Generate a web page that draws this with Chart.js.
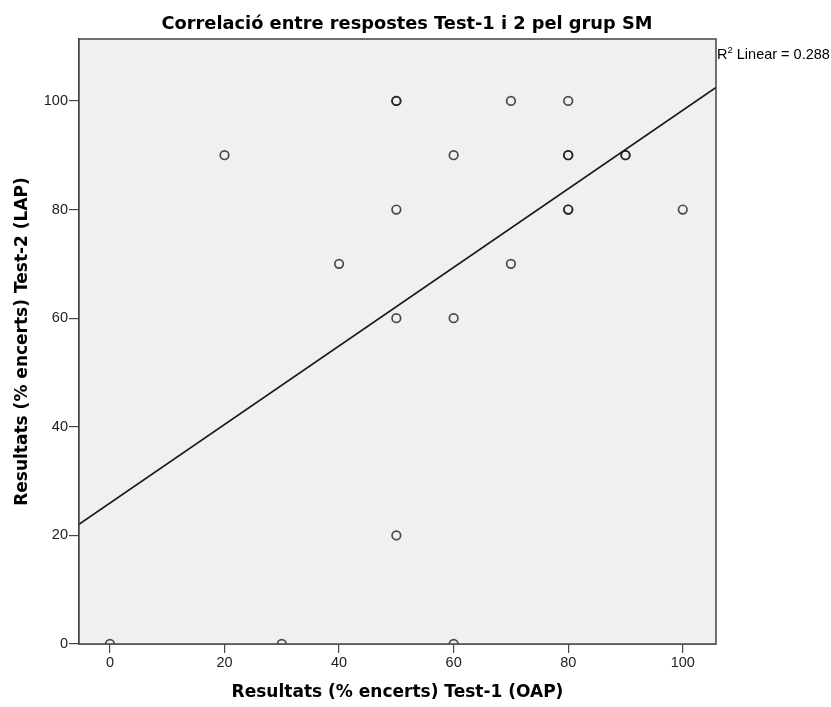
<!DOCTYPE html>
<html>
<head>
<meta charset="utf-8">
<script src="https://cdn.jsdelivr.net/npm/chart.js@4.4.0/dist/chart.umd.min.js"></script>
<style>
  html, body { margin: 0; padding: 0; background: #fff; }
  #wrap { width: 831px; height: 707px; }
</style>
</head>
<body>
<div id="wrap"><canvas id="scatter"></canvas></div>
<script>
// Test-1 (OAP) vs Test-2 (LAP), one entry per student
const test1 = [0, 30, 60, 50, 20, 40, 50, 50, 50, 50, 60, 60, 70, 70, 80, 80, 80, 80, 80, 90, 90, 100];
const test2 = [0, 0, 0, 20, 90, 70, 60, 80, 100, 100, 90, 60, 100, 70, 100, 90, 90, 80, 80, 90, 90, 80];
const xTicks = [0, 20, 40, 60, 80, 100];
const yTicks = [0, 20, 40, 60, 80, 100];
const chartTitle = "Correlació entre respostes Test-1 i 2 pel grup SM";
const r2Label = "0.288";

const xMin = -5.4, xMax = 105.8;

// least squares fit
const n = test1.length;
const mx = test1.reduce((a, b) => a + b, 0) / n;
const my = test2.reduce((a, b) => a + b, 0) / n;
let sxy = 0, sxx = 0;
for (let i = 0; i < n; i++) {
  sxy += (test1[i] - mx) * (test2[i] - my);
  sxx += (test1[i] - mx) * (test1[i] - mx);
}
const slope = sxy / sxx;
const intercept = my - slope * mx;

const points = test1.map((x, i) => ({ x: x, y: test2[i] }));
const fitLine = [xMin, xMax].map(x => ({ x: x, y: intercept + slope * x }));

const frame = {
  id: "frame",
  beforeDatasetsDraw(chart) {
    const { ctx, chartArea: a } = chart;
    ctx.save();
    ctx.fillStyle = "#f0f0f0";
    ctx.fillRect(a.left, a.top, a.right - a.left, a.bottom - a.top);
    ctx.restore();
  },
  afterDraw(chart) {
    const { ctx, chartArea: a } = chart;
    ctx.save();
    ctx.strokeStyle = "#444";
    ctx.lineWidth = 1.5;
    ctx.strokeRect(a.left, a.top, a.right - a.left, a.bottom - a.top);
    // title
    ctx.fillStyle = "#000";
    ctx.textAlign = "center";
    ctx.textBaseline = "alphabetic";
    ctx.font = "bold 17.8px 'DejaVu Sans'";
    ctx.fillText(chartTitle, 407, 28.5);
    // R2 label
    ctx.textAlign = "left";
    let x = a.right + 1, y = 59;
    ctx.font = "14.5px 'Liberation Sans', Arial";
    ctx.fillText("R", x, y);
    x += ctx.measureText("R").width;
    ctx.font = "9.5px 'Liberation Sans', Arial";
    ctx.fillText("2", x, y - 6);
    x += ctx.measureText("2").width;
    ctx.font = "14.5px 'Liberation Sans', Arial";
    ctx.fillText(" Linear = " + r2Label, x, y);
    ctx.restore();
  }
};

const tickFont = { family: "'Liberation Sans', Arial", size: 14.5 };
const titleFont = { family: "'DejaVu Sans'", size: 17, weight: "bold" };

new Chart(document.getElementById("scatter"), {
  type: "scatter",
  data: {
    datasets: [
      {
        label: "Observed",
        data: points,
        pointRadius: 4.3,
        pointHoverRadius: 4.3,
        pointBorderWidth: 1.7,
        pointBorderColor: "rgba(25,25,25,0.78)",
        pointBackgroundColor: "rgba(0,0,0,0)",
        clip: 0,
      },
      {
        type: "line",
        label: "Linear",
        data: fitLine,
        borderColor: "#1a1a1a",
        borderWidth: 1.6,
        pointRadius: 0,
        fill: false,
        clip: 0,
      },
    ],
  },
  options: {
    responsive: true,
    maintainAspectRatio: false,
    animation: false,
    layout: { padding: { left: 0, right: 115, top: 39, bottom: 0 } },
    plugins: {
      legend: { display: false },
      tooltip: { enabled: false },
      title: { display: false },
    },
    scales: {
      x: {
        type: "linear",
        min: xMin,
        max: xMax,
        afterBuildTicks: (axis) => { axis.ticks = xTicks.map(v => ({ value: v })); },
        afterFit: (axis) => { axis.height = 63; },
        ticks: { color: "#222", font: tickFont, padding: 1 },
        grid: { drawOnChartArea: false, drawTicks: true, tickLength: 9, color: "#444", lineWidth: 1.2 },
        border: { display: true, color: "#444", width: 1.5 },
        title: { display: true, text: "Resultats (% encerts) Test-1 (OAP)", color: "#000", font: titleFont, padding: { top: 5, bottom: 4 } },
      },
      y: {
        type: "linear",
        min: 0,
        max: 111.4,
        afterBuildTicks: (axis) => { axis.ticks = yTicks.map(v => ({ value: v })); },
        afterFit: (axis) => { axis.width = 79; },
        ticks: { color: "#222", font: tickFont, padding: 1 },
        grid: { drawOnChartArea: false, drawTicks: true, tickLength: 10, color: "#444", lineWidth: 1.2 },
        border: { display: true, color: "#444", width: 1.5 },
        title: { display: true, text: "Resultats (% encerts) Test-2 (LAP)", color: "#000", font: titleFont, padding: { top: 12, bottom: 4 } },
      },
    },
  },
  plugins: [frame],
});
</script>
</body>
</html>
